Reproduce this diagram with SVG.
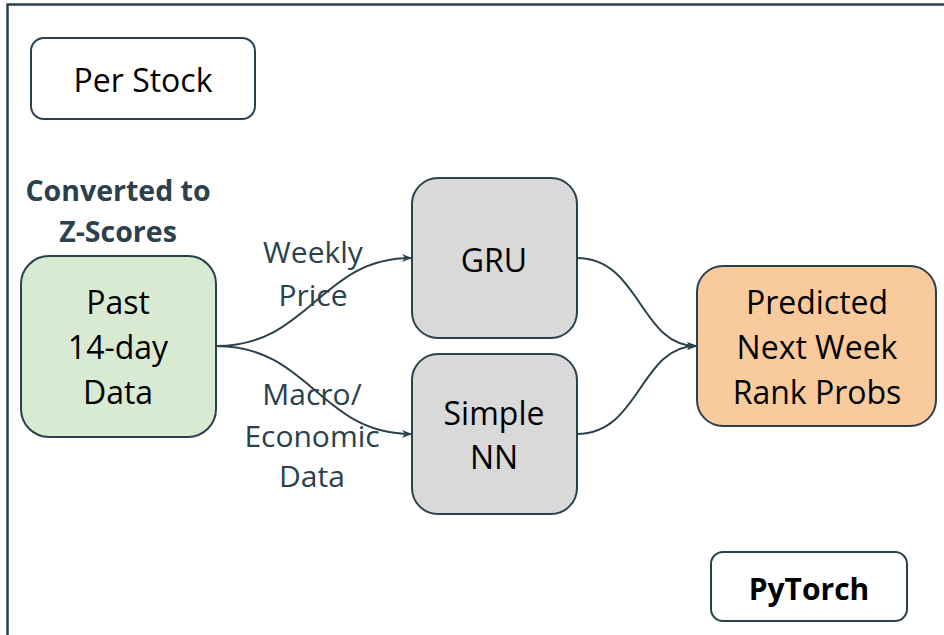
<svg xmlns="http://www.w3.org/2000/svg" width="944" height="635" viewBox="0 0 944 635">
<defs>
<style>
.box{stroke:#2b414c;stroke-width:2}
.t{font-family:"Open Sans","Noto Sans",sans-serif;font-size:32px;fill:#000;text-anchor:middle}
.lbl{font-family:"Open Sans","Noto Sans",sans-serif;font-size:30px;fill:#2b414c;text-anchor:middle}
.b{font-family:"Open Sans","Noto Sans",sans-serif;font-size:28.5px;font-weight:bold;text-anchor:middle}
.edge{fill:none;stroke:#2b414c;stroke-width:2}
</style>
<marker id="arr" viewBox="0 0 10 8" refX="9" refY="4" markerWidth="10" markerHeight="8" markerUnits="userSpaceOnUse" orient="auto">
<path d="M0,0 L10,4 L0,8 L3,4 z" fill="#2b414c"/>
</marker>
</defs>
<rect width="944" height="635" fill="#fff"/>
<path d="M7.5,640 L7.5,4.5 L944,4.5" fill="none" stroke="#2b414c" stroke-width="2.5"/>

<g id="connectors">
<path class="edge" d="M216,346 C310,346 320,258 411,258" marker-end="url(#arr)"/>
<path class="edge" d="M216,346 C310,346 320,434 411,434" marker-end="url(#arr)"/>
<path class="edge" d="M577,258 C640,258 640,346 696,346" marker-end="url(#arr)"/>
<path class="edge" d="M577,434 C640,434 640,346 696,346" marker-end="url(#arr)"/>
</g>

<g id="label-weekly">
<text class="lbl" x="313" y="263">Weekly</text>
<text class="lbl" x="313" y="306">Price</text>
</g>
<g id="label-macro">
<text class="lbl" x="312" y="405">Macro/</text>
<text class="lbl" x="312" y="447">Economic</text>
<text class="lbl" x="312" y="487">Data</text>
</g>

<g id="per-stock">
<rect class="box" x="31" y="38" width="224" height="81" rx="13" fill="#fff"/>
<text class="t" x="143" y="92">Per Stock</text>
</g>

<g id="converted">
<text class="b" x="118" y="201" fill="#2b414c">Converted to</text>
<text class="b" x="118" y="242" fill="#2b414c">Z-Scores</text>
</g>

<g id="past-data">
<rect class="box" x="21" y="256" width="195" height="181" rx="28" fill="#d9ead3"/>
<text class="t" x="118" y="314">Past</text>
<text class="t" x="118" y="359">14-day</text>
<text class="t" x="118" y="404">Data</text>
</g>

<g id="gru">
<rect class="box" x="412" y="178" width="165" height="160" rx="26" fill="#d9d9d9"/>
<text class="t" x="494" y="272">GRU</text>
</g>

<g id="simple-nn">
<rect class="box" x="412" y="354" width="165" height="160" rx="26" fill="#d9d9d9"/>
<text class="t" x="494" y="425">Simple</text>
<text class="t" x="494" y="469">NN</text>
</g>

<g id="predicted">
<rect class="box" x="697" y="266" width="239" height="160" rx="26" fill="#f9cb9c"/>
<text class="t" x="817" y="314">Predicted</text>
<text class="t" x="817" y="359">Next Week</text>
<text class="t" x="817" y="404">Rank Probs</text>
</g>

<g id="pytorch">
<rect class="box" x="711" y="552" width="196" height="69" rx="12" fill="#fff"/>
<text class="b" x="809" y="600" fill="#000" style="font-size:30px">PyTorch</text>
</g>
</svg>
